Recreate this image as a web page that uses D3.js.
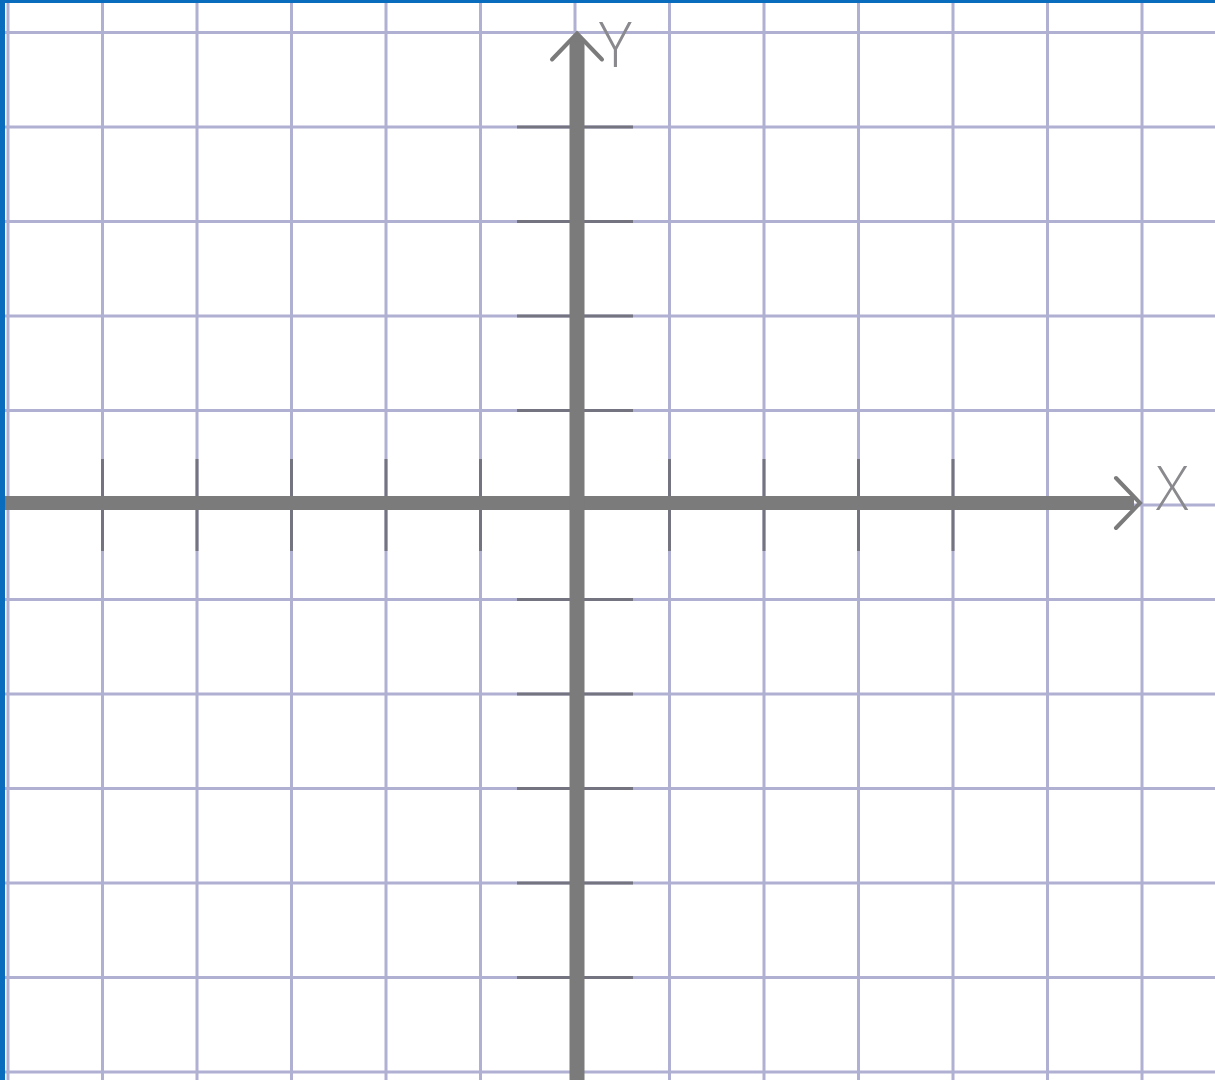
<!DOCTYPE html>
<html>
<head>
<meta charset="utf-8">
<script src="https://cdn.jsdelivr.net/npm/d3@7"></script>
<style>
  html, body { margin: 0; padding: 0; background: #ffffff; }
  svg { display: block; }
</style>
</head>
<body>
<script>
// Grid values (unit steps) and tick values
const gridXValues = [-6, -5, -4, -3, -2, -1, 0, 1, 2, 3, 4, 5, 6];
const gridYValues = [-6, -5, -4, -3, -2, -1, 0, 1, 2, 3, 4, 5];
const xTickValues = [-5, -4, -3, -2, -1, 1, 2, 3, 4];
const yTickValues = [-5, -4, -3, -2, -1, 1, 2, 3, 4];
const axisLabels = ["X", "Y"];
const xExtent = [-6.07, 6];
const yExtent = [-6.2, 5];

const W = 1215, H = 1080;
const svg = d3.select("body").append("svg").attr("width", W).attr("height", H);

svg.append("rect").attr("width", W).attr("height", H).attr("fill", "#ffffff");

// scales: x(0)=575, step 94.5 ; y(0)=505, step 94.5
const x = d3.scaleLinear().domain([0, 1]).range([575, 575 + 94.5]);
const y = d3.scaleLinear().domain([0, 1]).range([505, 505 - 94.5]);

const gridColor = "#b0b0d3";
// grid
svg.append("g").selectAll("line.gx").data(gridXValues).join("line")
  .attr("x1", d => x(d)).attr("x2", d => x(d))
  .attr("y1", 0).attr("y2", H)
  .attr("stroke", gridColor).attr("stroke-width", 3);
svg.append("g").selectAll("line.gy").data(gridYValues).join("line")
  .attr("x1", 0).attr("x2", W)
  .attr("y1", d => y(d)).attr("y2", d => y(d))
  .attr("stroke", gridColor).attr("stroke-width", 3);

const axisColor = "#7b7b7b";
const tickColor = "#747480";

// ticks on Y axis (horizontal)
svg.append("g").selectAll("line").data(yTickValues).join("line")
  .attr("x1", x(0) - 58).attr("x2", x(0) + 58)
  .attr("y1", d => y(d)).attr("y2", d => y(d))
  .attr("stroke", tickColor).attr("stroke-width", 3);
// ticks on X axis (vertical)
svg.append("g").selectAll("line").data(xTickValues).join("line")
  .attr("x1", d => x(d)).attr("x2", d => x(d))
  .attr("y1", y(0) - 46).attr("y2", y(0) + 46)
  .attr("stroke", tickColor).attr("stroke-width", 3);

// main axes
const xTip = x(xExtent[1]) - 2;
const yTip = y(yExtent[1]) + 1;
svg.append("line")
  .attr("x1", x(xExtent[0])).attr("x2", xTip - 6)
  .attr("y1", y(0) - 2).attr("y2", y(0) - 2)
  .attr("stroke", axisColor).attr("stroke-width", 14);
svg.append("line")
  .attr("x1", x(0) + 2).attr("x2", x(0) + 2)
  .attr("y1", H).attr("y2", yTip + 6)
  .attr("stroke", axisColor).attr("stroke-width", 15);

// arrowheads
const arrow = d3.line();
svg.append("path")
  .attr("d", arrow([[xTip - 24, y(0) - 27], [xTip, y(0) - 2], [xTip - 24, y(0) + 23]]))
  .attr("fill", "none").attr("stroke", axisColor).attr("stroke-width", 4)
  .attr("stroke-linecap", "round").attr("stroke-linejoin", "miter");
svg.append("path")
  .attr("d", arrow([[x(0) + 2 - 25, yTip + 26], [x(0) + 2, yTip], [x(0) + 2 + 25, yTip + 26]]))
  .attr("fill", "none").attr("stroke", axisColor).attr("stroke-width", 4)
  .attr("stroke-linecap", "round").attr("stroke-linejoin", "miter");
svg.append("path")
  .attr("d", d3.line()([[x(0) + 2 - 8, yTip + 8], [x(0) + 2, yTip], [x(0) + 2 + 8, yTip + 8]]))
  .attr("fill", axisColor);

// axis labels
svg.append("text").text(axisLabels[0])
  .attr("x", 1156).attr("y", 510)
  .attr("font-family", "'Open Sans', 'DejaVu Sans', sans-serif")
  .attr("font-weight", 300).attr("font-size", 60)
  .attr("fill", "#8a8a8e");
svg.append("text").text(axisLabels[1])
  .attr("x", 599).attr("y", 67)
  .attr("font-family", "'Open Sans', 'DejaVu Sans', sans-serif")
  .attr("font-weight", 300).attr("font-size", 62)
  .attr("fill", "#8a8a8e");

// blue frame edges
svg.append("rect").attr("x", 0).attr("y", 0).attr("width", 5).attr("height", H).attr("fill", "#0a6cbc");
svg.append("rect").attr("x", 0).attr("y", 0).attr("width", W).attr("height", 3).attr("fill", "#0a6cbc");
</script>
</body>
</html>
